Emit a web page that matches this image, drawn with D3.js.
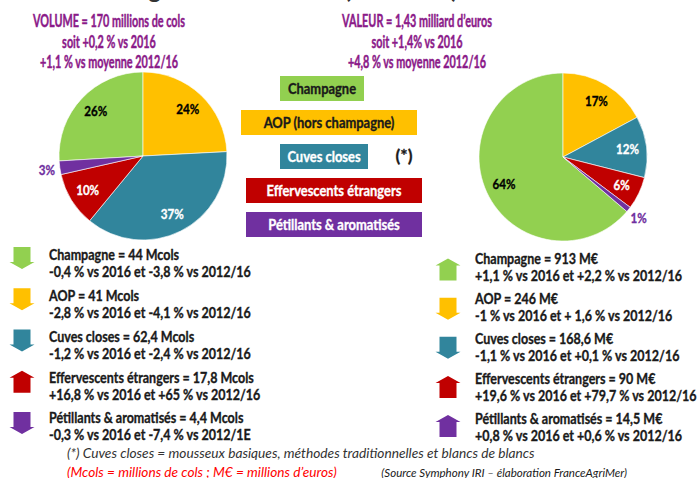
<!DOCTYPE html>
<html>
<head>
<meta charset="utf-8">
<script src="https://cdn.jsdelivr.net/npm/d3@7"></script>
<style>
  body { margin: 0; background: #fff; }
  svg { display: block; }
</style>
</head>
<body>
<script>
// categories + figures
const categories = ['Champagne', 'AOP', 'Cuves closes', 'Effervescents étrangers', 'Pétillants & aromatisés'];
const legendLabels = ['Champagne', 'AOP (hors champagne)', 'Cuves closes', 'Effervescents étrangers', 'Pétillants & aromatisés'];
const colors = ['#92D050', '#FFC000', '#31859C', '#C00000', '#7030A0'];

const volumeHeader = ['VOLUME = 170 millions de cols', 'soit +0,2 % vs 2016', '+1,1 % vs moyenne 2012/16'];
const volumeMcols = [44, 41, 62.4, 17.8, 4.4];
const volumeShare = [26, 24, 37, 10, 3];
const volumeVs2016 = [-0.4, -2.8, -1.2, 16.8, -0.3];
const volumeDetail = [
  '-0,4 % vs 2016 et -3,8 % vs 2012/16',
  '-2,8 % vs 2016 et -4,1 % vs 2012/16',
  '-1,2 % vs 2016 et -2,4 % vs 2012/16',
  '+16,8 % vs 2016 et +65 % vs 2012/16',
  '-0,3 % vs 2016 et -7,4 % vs 2012/1E'
];

const valueHeader = ['VALEUR = 1,43 milliard d’euros', 'soit +1,4% vs 2016', '+4,8 % vs moyenne 2012/16'];
const valueMeur = [913, 246, 168.6, 90, 14.5];
const valueShare = [64, 17, 12, 6, 1];
const valueVs2016 = [1.1, -1, -1.1, 19.6, 0.8];
const valueDetail = [
  '+1,1 % vs 2016 et +2,2 % vs 2012/16',
  '-1 % vs 2016 et + 1,6 % vs 2012/16',
  '-1,1 % vs 2016 et +0,1 % vs 2012/16',
  '+19,6 % vs 2016 et +79,7 % vs 2012/16',
  '+0,8 % vs 2016 et +0,6 % vs 2012/16'
];

const footNote = '(*) Cuves closes = mousseux basiques, méthodes traditionnelles et blancs de blancs';
const unitNote = '(Mcols = millions de cols ; M€ = millions d’euros)';
const sourceNote = '(Source Symphony IRI – élaboration FranceAgriMer)';

const W = 699, H = 478;
const FONT = 'Lato, Calibri, "Open Sans", sans-serif';
const fr = d3.formatLocale({decimal: ',', thousands: ' ', grouping: [3], currency: ['', '']});
const num = fr.format('~r');

const svg = d3.select('body').append('svg').attr('width', W).attr('height', H);

// the slide text is narrower than any installed font, so squeeze each style to a reference width
function makeStyle(size, weight, italic, ref, target, thick) {
  const t = svg.append('text')
    .attr('font-family', FONT).attr('font-size', size)
    .attr('font-weight', weight).attr('font-style', italic ? 'italic' : 'normal')
    .text(ref);
  const w = t.node().getComputedTextLength();
  t.remove();
  return {size, weight, italic, sx: target / w, thick: thick || 0};
}
const S = {
  header: makeStyle(17, 'bold', false, volumeHeader[0], 152, 0.45),
  list: makeStyle(15, 'bold', false, volumeDetail[0], 202, 0.35),
  legend: makeStyle(14.5, 'bold', false, 'Effervescents étrangers', 135, 0.35),
  star: makeStyle(17, 'bold', false, '(*)', 17, 0.3),
  pie: makeStyle(14, 'bold', false, '26%', 23, 0.35),
  foot: makeStyle(14, 'normal', true, footNote, 468),
  note: makeStyle(14, 'normal', true, unitNote, 270),
  source: makeStyle(11, 'normal', true, sourceNote, 246)
};

function put(x, y, str, st, anchor, fill) {
  const t = svg.append('text')
    .attr('transform', `translate(${x},${y}) scale(${st.sx},1)`)
    .attr('text-anchor', anchor || 'start')
    .attr('dy', '0.35em')
    .attr('font-family', FONT)
    .attr('font-size', st.size)
    .attr('font-weight', st.weight)
    .attr('font-style', st.italic ? 'italic' : 'normal')
    .attr('fill', fill || '#1a1a1a')
    .text(str);
  if (st.thick) t.attr('stroke', fill || '#1a1a1a').attr('stroke-width', st.thick);
  return t;
}

// slide title, cut off by the top edge (only the descenders show)
const titleParts = [
  {x: 352, anchor: 'end', text: 'Achats en grande distribution'},
  {x: 401, anchor: 'middle', text: '(CAD+HD)'},
  {x: 450, anchor: 'start', text: 'en 2017'}
];
titleParts.forEach(p => svg.append('text')
  .attr('x', p.x).attr('y', -2).attr('text-anchor', p.anchor)
  .attr('font-family', FONT).attr('font-size', 24).attr('font-weight', 'bold').attr('fill', '#333')
  .text(p.text));

// headers
const headY = d3.scalePoint().domain([0, 1, 2]).range([21.5, 62]);
volumeHeader.forEach((t, i) => put(109, headY(i), t, S.header, 'middle', '#8B1A89'));
valueHeader.forEach((t, i) => put(417, headY(i), t, S.header, 'middle', '#8B1A89'));

// pies
const R = 84;
function drawPie(cx, cy, values, shares) {
  const total = d3.sum(values);
  const start = -2 * Math.PI * values[0] / total;
  const pie = d3.pie().sort(null).startAngle(start).endAngle(start + 2 * Math.PI);
  const arcs = pie(values);
  const arc = d3.arc().innerRadius(0).outerRadius(R);
  const inner = d3.arc().innerRadius(65).outerRadius(65);
  const outer = d3.arc().innerRadius(97).outerRadius(97);
  const g = svg.append('g').attr('transform', `translate(${cx},${cy})`);
  g.selectAll('path').data(arcs).enter().append('path')
    .attr('d', arc)
    .attr('fill', (d, i) => colors[i])
    .attr('stroke', '#fff').attr('stroke-width', 0.6);
  arcs.forEach((d, i) => {
    const small = shares[i] < 5;
    const [x, y] = (small ? outer : inner).centroid(d);
    const fill = small ? '#7030A0' : (i === 2 || i === 3 ? '#fff' : '#000');
    put(cx + x, cy + y, shares[i] + '%', S.pie, 'middle', fill);
  });
}
drawPie(143, 156, volumeMcols, volumeShare);
drawPie(563, 157, valueMeur, valueShare);

// legend boxes in the middle
const legendX = [[280, 364], [241, 417], [280, 368], [246, 422], [246, 422]];
const legY = d3.scaleBand().domain(categories).range([76, 237]).paddingInner(9 / 34);
categories.forEach((c, i) => {
  const [x0, x1] = legendX[i];
  svg.append('rect')
    .attr('x', x0).attr('y', legY(c))
    .attr('width', x1 - x0).attr('height', legY.bandwidth())
    .attr('fill', colors[i]);
  put((x0 + x1) / 2, legY(c) + legY.bandwidth() / 2, legendLabels[i], S.legend, 'middle', i < 2 ? '#1a1a1a' : '#fff');
});
put(404, legY(categories[2]) + legY.bandwidth() / 2, '(*)', S.star, 'middle', '#1a1a1a');

// arrow block: width 25, height 22
function arrowPath(up) {
  const s = up ? -1 : 1;
  return `M-8.5,${-11 * s}H8.5V${4 * s}H12.5L0,${11 * s}L-12.5,${4 * s}H-8.5Z`;
}

function drawList(x, arrowX, textRange, arrowRange, values, unit, vs2016, details) {
  const rowY = d3.scalePoint().domain(categories).range(textRange);
  const arrY = d3.scalePoint().domain(categories).range(arrowRange);
  categories.forEach((c, i) => {
    svg.append('path')
      .attr('transform', `translate(${arrowX},${arrY(c)})`)
      .attr('d', arrowPath(vs2016[i] > 0))
      .attr('fill', colors[i]);
    put(x, rowY(c), `${c} = ${num(values[i])} ${unit}`, S.list);
    put(x, rowY(c) + 17, details[i], S.list);
  });
}
drawList(49, 22, [255, 418], [258, 423], volumeMcols, 'Mcols', volumeVs2016, volumeDetail);
drawList(475, 448, [259, 419], [269.5, 426], valueMeur, 'M€', valueVs2016, valueDetail);

// notes
put(67, 453, footNote, S.foot, 'start', '#333');
put(67, 472, unitNote, S.note, 'start', '#FF0000');
put(627, 473, sourceNote, S.source, 'end', '#1a1a1a');
</script>
</body>
</html>
